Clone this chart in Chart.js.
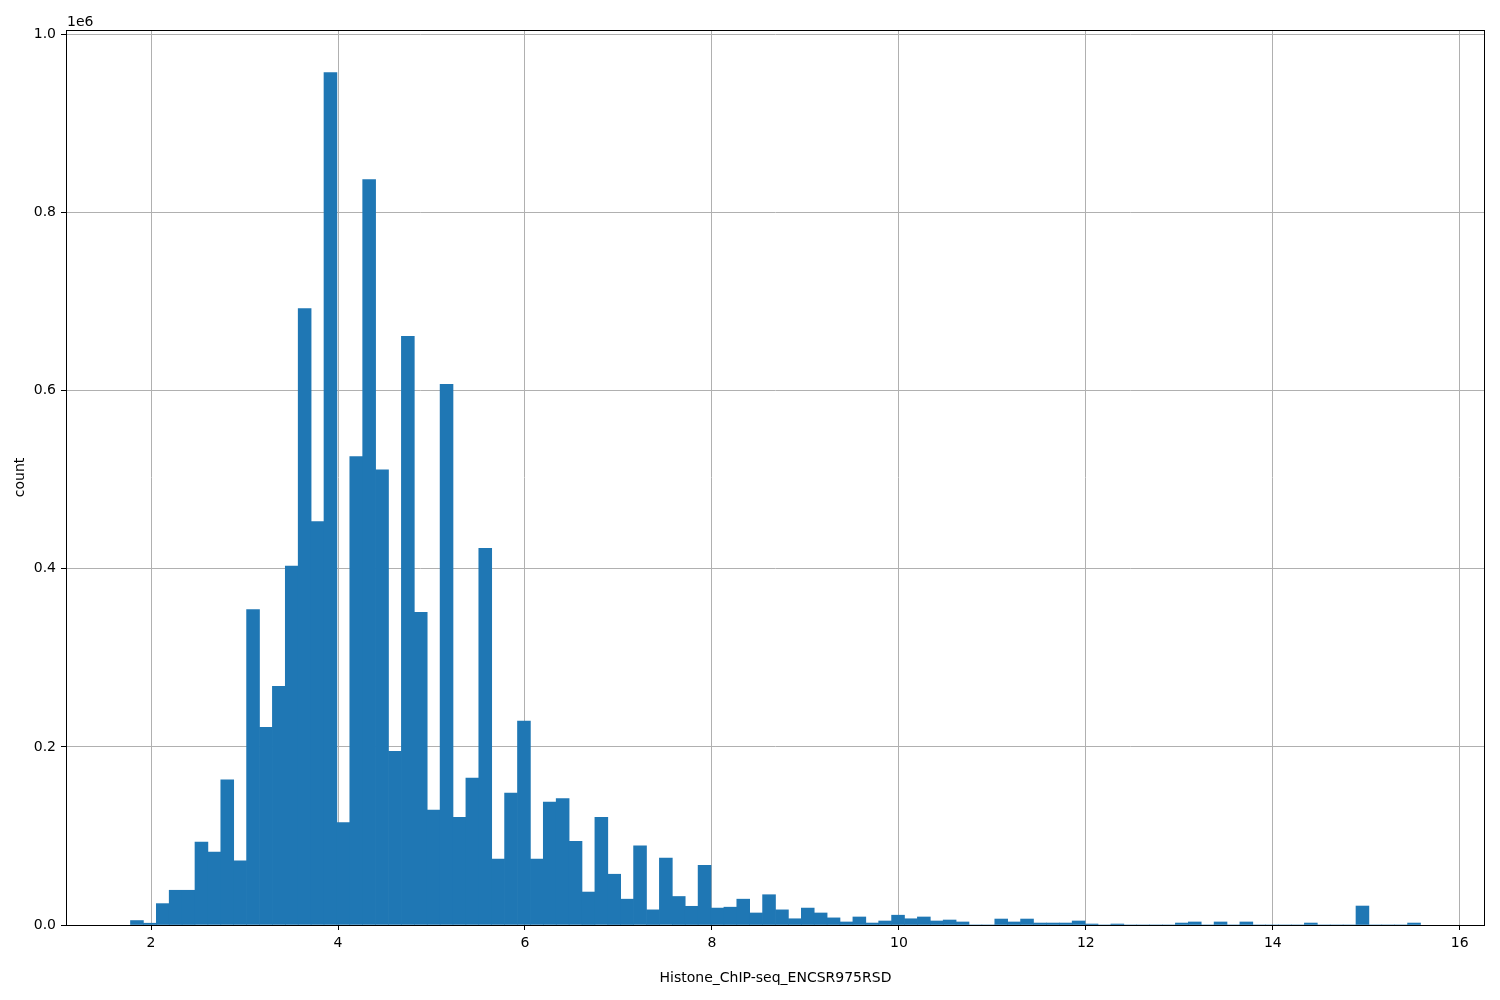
<!DOCTYPE html>
<html>
<head>
<meta charset="utf-8">
<script src="https://cdn.jsdelivr.net/npm/chart.js@4"></script>
<style>
  html, body { margin: 0; padding: 0; background: #fff; }
  #wrap { width: 1500px; height: 1000px; }
</style>
</head>
<body>
<div id="wrap"><canvas id="myChart" width="1500" height="1000"></canvas></div>
<script>
// histogram: 100 bins, first edge and bin width
const binStart = 1.78;
const binWidth = 0.138;

const counts = [
    5000, 2000, 24000, 39000, 39000, 93000, 82000, 163000, 72000, 354000,
    222000, 268000, 403000, 692000, 453000, 957000, 115000, 526000, 837000, 511000,
    195000, 661000, 351000, 129000, 607000, 121000, 165000, 423000, 74000, 148000,
    229000, 74000, 138000, 142000, 94000, 37000, 121000, 57000, 29000, 89000,
    17000, 75000, 32000, 21000, 67000, 19000, 20000, 29000, 13500, 34000,
    17000, 7000, 19000, 13500, 8000, 3400, 9000, 2200, 4500, 11000,
    7000, 9000, 4500, 5600, 3400, 0, 0, 6700, 3400, 6700,
    2200, 2200, 2200, 4500, 1100, 0, 1100, 0, 0, 0,
    0, 2200, 3400, 0, 3400, 0, 3400, 0, 0, 0,
    0, 2200, 0, 0, 0, 21300, 0, 0, 0, 2200
];

const xTicks = [2, 4, 6, 8, 10, 12, 14, 16];
const yTicks = [0, 200000, 400000, 600000, 800000, 1000000];

const xLabel = 'Histone_ChIP-seq_ENCSR975RSD';
const yLabel = 'count';

const FONT = 'DejaVu Sans';

const points = counts.map((c, i) => ({ x: binStart + (i + 0.5) * binWidth, y: c }));

const xMin = binStart - 0.05 * counts.length * binWidth;
const xMax = binStart + 1.05 * counts.length * binWidth;
const yMax = Math.max(...counts) * 1.05;

// top/right spines and the 1e6 offset text
const framePlugin = {
    id: 'frame',
    afterDraw(chart) {
        const { ctx, chartArea: a } = chart;
        ctx.save();
        ctx.strokeStyle = '#000';
        ctx.lineWidth = 1;
        ctx.strokeRect(Math.round(a.left) + 0.5, Math.round(a.top) + 0.5,
            Math.round(a.right - a.left) - 1, Math.round(a.bottom - a.top));
        ctx.fillStyle = '#000';
        ctx.font = '14px "' + FONT + '"';
        ctx.textAlign = 'left';
        ctx.textBaseline = 'alphabetic';
        ctx.fillText('1e6', a.left + 1, a.top - 4);
        ctx.restore();
    }
};

const config = {
    type: 'bar',
    data: {
        datasets: [{
            data: points,
            backgroundColor: '#1f77b4',
            borderWidth: 0,
            barPercentage: 1.0,
            categoryPercentage: 1.0
        }]
    },
    options: {
        responsive: false,
        animation: false,
        layout: { padding: { top: 30, right: 15, left: 0, bottom: 0 } },
        plugins: {
            legend: { display: false },
            tooltip: { enabled: false }
        },
        scales: {
            x: {
                type: 'linear',
                min: xMin,
                max: xMax,
                offset: false,
                z: 1,
                border: { display: false },
                grid: {
                    color: '#b0b0b0',
                    lineWidth: 1,
                    tickColor: '#000',
                    tickLength: 5,
                    offset: false
                },
                afterBuildTicks(scale) {
                    scale.ticks = xTicks.map(v => ({ value: v }));
                },
                ticks: {
                    autoSkip: false,
                    color: '#000',
                    padding: 5,
                    maxRotation: 0,
                    font: { family: FONT, size: 14 },
                    callback: v => String(v)
                },
                title: {
                    display: true,
                    text: xLabel,
                    color: '#000',
                    font: { family: FONT, size: 14 },
                    padding: { top: 0, bottom: 13 }
                },
                afterFit(scale) { scale.height = 75; }
            },
            y: {
                min: 0,
                max: yMax,
                z: 1,
                border: { display: false },
                grid: {
                    color: '#b0b0b0',
                    lineWidth: 1,
                    tickColor: '#000',
                    tickLength: 5
                },
                afterBuildTicks(scale) {
                    scale.ticks = yTicks.map(v => ({ value: v }));
                },
                ticks: {
                    autoSkip: false,
                    color: '#000',
                    padding: 5,
                    font: { family: FONT, size: 14 },
                    callback: v => (v / 1e6).toFixed(1)
                },
                title: {
                    display: true,
                    text: yLabel,
                    color: '#000',
                    font: { family: FONT, size: 14 },
                    padding: { top: 12, bottom: 0 }
                },
                afterFit(scale) { scale.width = 66; }
            }
        }
    },
    plugins: [framePlugin]
};

new Chart(document.getElementById('myChart'), config);
</script>
</body>
</html>
